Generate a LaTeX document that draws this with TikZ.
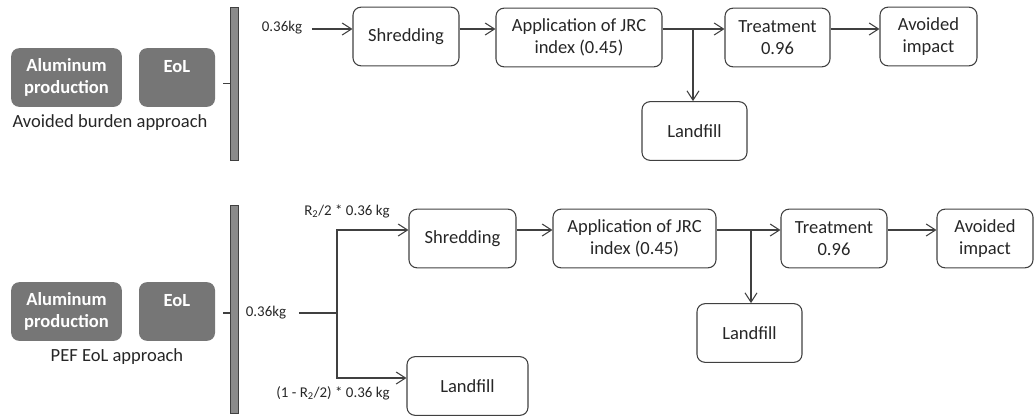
\documentclass[tikz,border=0pt]{standalone}
\usepackage{fontspec}
\setmainfont{Carlito}
\usetikzlibrary{arrows.meta,positioning,calc}
\definecolor{EolGray}{HTML}{767676}
\definecolor{EolLine}{HTML}{404040}
\definecolor{EolText}{HTML}{262626}

\begin{document}
\begin{tikzpicture}[x=0.75pt,y=-0.75pt,
    stage/.style={draw=EolLine,line width=0.8pt,rounded corners=6pt,align=center,text=EolText,
      minimum height=44pt,inner sep=2pt,font=\fontsize{13.9}{16.5}\selectfont},
    graybox/.style={fill=EolGray,rounded corners=6pt,align=center,text=white,
      minimum height=44pt,inner sep=2pt,font=\fontsize{13.9}{16}\selectfont\bfseries},
    bar/.style={draw=EolLine,fill=EolGray!85,line width=0.5pt,minimum width=6pt,inner sep=0pt},
    flow/.style={draw=EolLine,line width=0.8pt,-{Straight Barb[length=7pt,width=9pt]}},
    lbl/.style={text=EolText,font=\fontsize{11.2}{13}\selectfont,inner sep=1pt}]
  \useasboundingbox (0,0) rectangle (1034,418);

  % avoided burden approach
  \node[graybox,minimum width=83pt] (alu1) at (66.5,77.5) {Aluminum\\production};
  \node[graybox,minimum width=57pt] (eol1) at (177,77.5) {EoL\\~};
  \node[text=EolText,font=\fontsize{13.9}{16}\selectfont] (appr1) at (110,123) {Avoided burden approach};
  \node[bar,minimum height=115pt] (bar1) at (234,83.5) {};
  \draw[EolLine,line width=0.8pt] (bar1.west) -- ++(-7,0);

  \node[lbl] (in1) at (282,28) {0.36kg};
  \node[stage,minimum width=79.5pt] (shred1) at (406,36.5) {Shredding};
  \node[stage,minimum width=124.5pt] (app1) at (579,37.5) {Application of JRC\\index (0.45)};
  \node[stage,minimum width=78.75pt] (treat1) at (777.5,37.5) {Treatment\\0.96};
  \node[stage,minimum width=72.75pt] (avoid1) at (928.5,36.5) {Avoided\\impact};
  \node[stage,minimum width=78.75pt] (land1) at (694.5,131) {Landfill};
  \coordinate (row1) at (0,29);
  \coordinate (fork1) at (693,29);

  \draw[flow] ($(in1.east)+(8,1)$) -- (shred1.west |- row1);
  \draw[flow] (shred1.east |- row1) -- (app1.west |- row1);
  \draw[flow] (app1.east |- row1) -- (treat1.west |- row1);
  \draw[flow] (treat1.east |- row1) -- (avoid1.west |- row1);
  \draw[flow] (fork1) -- (fork1 |- land1.north);

  % PEF EoL approach
  \node[graybox,minimum width=83pt] (alu2) at (66.5,311.5) {Aluminum\\production};
  \node[graybox,minimum width=57pt] (eol2) at (177,311.5) {EoL\\~};
  \node[text=EolText,font=\fontsize{13.9}{16}\selectfont] (appr2) at (117,357) {PEF EoL approach};
  \node[bar,minimum height=156pt] (bar2) at (234,309) {};
  \draw[EolLine,line width=0.8pt] (bar2.west |- 0,313) -- ++(-7,0);

  \node[lbl] (in2) at (266,313) {0.36kg};
  \node[lbl] (share1) at (347,211) {R\textsubscript{2}/2 * 0.36 kg};
  \node[lbl] (share2) at (333,393) {(1 - R\textsubscript{2}/2) * 0.36 kg};
  \node[stage,minimum width=80.25pt] (shred2) at (462.5,238.5) {Shredding};
  \node[stage,minimum width=90.75pt] (land3) at (467.5,386) {Landfill};
  \node[stage,minimum width=122.25pt] (app2) at (634.5,238.5) {Application of JRC\\index (0.45)};
  \node[stage,minimum width=79.5pt] (treat2) at (834,238.5) {Treatment\\0.96};
  \node[stage,minimum width=72pt] (avoid2) at (985,238.5) {Avoided\\impact};
  \node[stage,minimum width=78.75pt] (land2) at (749.5,333) {Landfill};
  \coordinate (row2) at (0,230);
  \coordinate (split) at (337,313);
  \coordinate (fork2) at (751,230);

  \draw[EolLine,line width=0.8pt] ($(in2.east)+(11,0)$) -- (split);
  \draw[flow] (split) |- (shred2.west |- row2);
  \draw[flow] (split) |- (land3.west |- 0,378);
  \draw[flow] (shred2.east |- row2) -- (app2.west |- row2);
  \draw[flow] (app2.east |- row2) -- (treat2.west |- row2);
  \draw[flow] (treat2.east |- row2) -- (avoid2.west |- row2);
  \draw[flow] (fork2) -- (fork2 |- land2.north);
\end{tikzpicture}
\end{document}
